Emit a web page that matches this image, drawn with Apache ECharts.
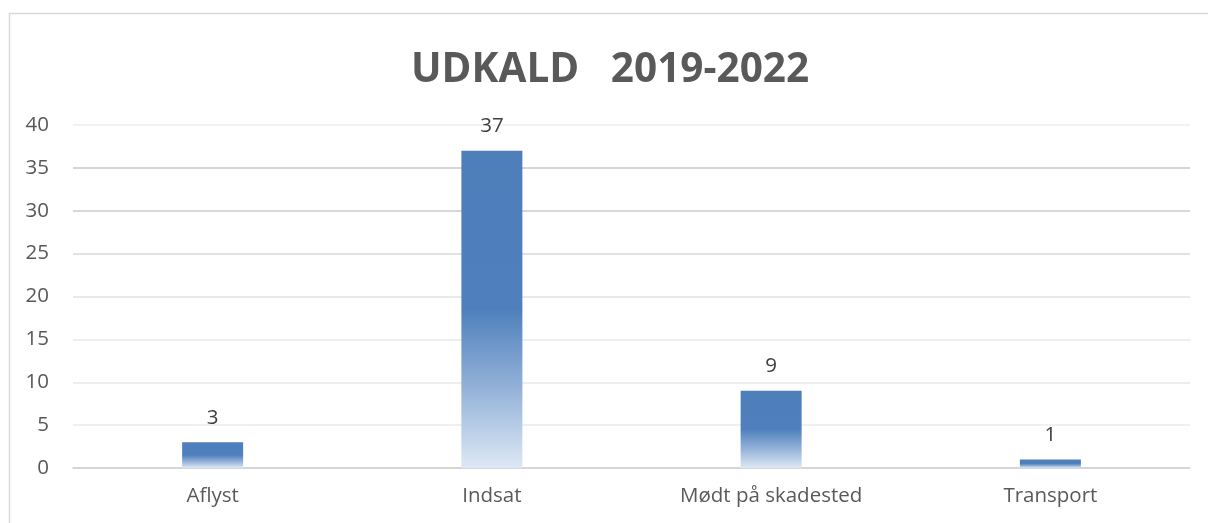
<!DOCTYPE html>
<html>
<head>
<meta charset="utf-8">
<script src="https://cdn.jsdelivr.net/npm/echarts@6/dist/echarts.min.js"></script>
<style>
html,body{margin:0;padding:0;background:#fff;}
#c{width:1208px;height:523px;}
</style>
</head>
<body>
<div id="c"></div>
<script>
const categories = ['Aflyst', 'Indsat', 'Mødt på skadested', 'Transport'];
const values = [3, 37, 9, 1];
const titleText = 'UDKALD   2019-2022';
const yMin = 0, yMax = 40, yStep = 5;

const chart = echarts.init(document.getElementById('c'), null, {renderer: 'canvas'});
const font = 'Open Sans, Liberation Sans, sans-serif';
chart.setOption({
  animation: false,
  backgroundColor: '#fff',
  graphic: [{
    type: 'rect', silent: true, z: -1,
    shape: {x: 9.5, y: 13.5, width: 1230, height: 530},
    style: {fill: 'none', stroke: '#d9d9d9', lineWidth: 1.5}
  }],
  title: {
    text: titleText, left: 406, top: 45,
    textStyle: {fontFamily: font, fontWeight: 'bold', fontSize: 40.5, color: '#595959'}
  },
  grid: {left: 73, right: 18, top: 125, bottom: 55, containLabel: false},
  xAxis: {
    type: 'category', data: categories,
    axisTick: {show: false},
    axisLine: {lineStyle: {color: '#d0d0d0', width: 1.5}},
    axisLabel: {fontFamily: font, fontSize: 20.5, color: '#595959', margin: 18}
  },
  yAxis: {
    type: 'value', min: yMin, max: yMax, interval: yStep,
    axisLine: {show: false}, axisTick: {show: false},
    axisLabel: {fontFamily: font, fontSize: 20.5, color: '#595959', margin: 24},
    splitLine: {lineStyle: {width: 1.5, color: ['#e0e0e0','#ebebeb','#e8e8e8','#e8e8e8','#e2e2e2','#d9d9d9','#cacaca','#c8c8c8','#eeeeee']}}
  },
  series: [{
    type: 'bar', data: values, barWidth: 61,
    itemStyle: {
      color: new echarts.graphic.LinearGradient(0, 0, 0, 1, [
        {offset: 0, color: '#4e7fbb'},
        {offset: 0.5, color: '#4f80bd'},
        {offset: 0.75, color: '#94b2d8'},
        {offset: 1, color: '#dde8f5'}
      ])
    },
    label: {show: true, position: 'top', distance: 14, fontFamily: font, fontSize: 20.5, color: '#404040'}
  }]
});
</script>
</body>
</html>
